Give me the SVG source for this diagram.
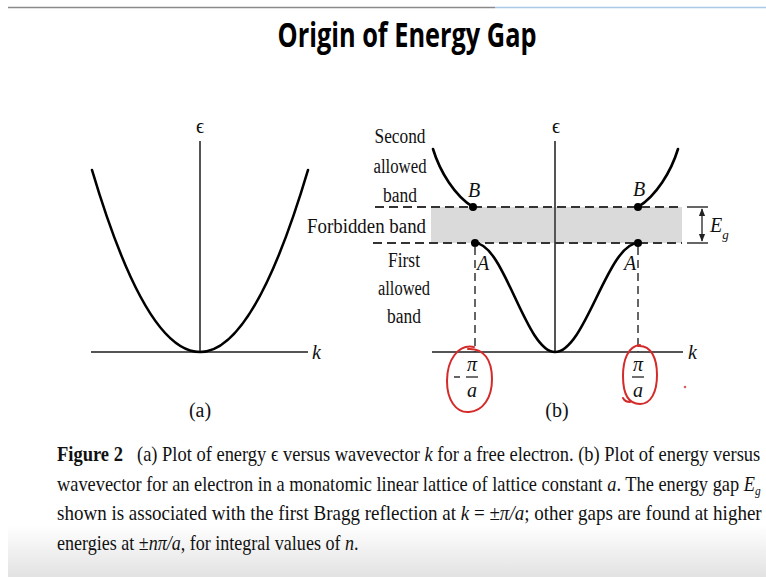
<svg xmlns="http://www.w3.org/2000/svg" width="766" height="577" viewBox="0 0 766 577">
<style>
.ax{stroke:#555;stroke-width:2;fill:none}
.cv{stroke:#000;stroke-width:2.6;fill:none;stroke-linecap:round}
.dash{stroke:#333;stroke-width:2;stroke-dasharray:9 5;fill:none}
.vdash{stroke:#333;stroke-width:1.5;stroke-dasharray:8 5;fill:none}
.lbl{font-family:"Liberation Serif","DejaVu Serif",serif;font-size:20px;fill:#111}
.it{font-style:italic}
.cap{font-family:"Liberation Serif","DejaVu Serif",serif;font-size:21px;fill:#111}
.red{stroke:#d42a2a;stroke-width:2;fill:none;stroke-linecap:round}
.dot{fill:#000}
</style>
<defs>
<linearGradient id="bg" x1="0" y1="0" x2="0" y2="1">
<stop offset="0" stop-color="#ffffff"/>
<stop offset="1" stop-color="#e2e2e2"/>
</linearGradient>
<marker id="ah" viewBox="0 0 10 10" refX="9" refY="5" markerWidth="6" markerHeight="6" orient="auto-start-reverse">
<path d="M0,1 L10,5 L0,9 z" fill="#222"/>
</marker>
</defs>
<rect x="0" y="0" width="766" height="577" fill="#fff"/>
<rect x="8" y="525" width="758" height="52" fill="url(#bg)"/>
<line x1="8" y1="7.5" x2="495" y2="7.5" stroke="#8a8a8a" stroke-width="1.5"/>
<line x1="495" y1="7.5" x2="766" y2="7.5" stroke="#a9c9e4" stroke-width="1.5"/>

<g id="title">
<text x="407" y="47" text-anchor="middle" font-family="'Open Sans','DejaVu Sans',sans-serif" font-weight="bold" font-size="34" textLength="259" lengthAdjust="spacingAndGlyphs" fill="#000">Origin of Energy Gap</text>
</g>

<g id="panel-a">
<line class="ax" x1="200" y1="141" x2="200" y2="352"/>
<line class="ax" x1="91" y1="352" x2="308" y2="352"/>
<path class="cv" d="M92,170 Q200,534 308,170"/>
<text class="lbl" x="200" y="133" text-anchor="middle" font-size="18">ϵ</text>
<text class="lbl it" x="312" y="359" font-size="20">k</text>
<text class="lbl" x="200" y="417" text-anchor="middle">(a)</text>
</g>

<g id="panel-b">
<rect x="431" y="207" width="251" height="36" fill="#dadada"/>
<line class="ax" x1="555" y1="141" x2="555" y2="352"/>
<line class="ax" x1="432" y1="352" x2="683" y2="352"/>
<text class="lbl" x="556" y="133" text-anchor="middle" font-size="18">ϵ</text>
<text class="lbl it" x="688" y="359" font-size="20">k</text>
<text class="lbl" x="557" y="417" text-anchor="middle">(b)</text>
</g>

<g id="connectors">
<line class="dash" x1="375" y1="207" x2="682" y2="207"/>
<line class="dash" x1="373" y1="243" x2="682" y2="243"/>
<line class="vdash" x1="475" y1="247" x2="475" y2="352"/>
<line class="vdash" x1="638" y1="247" x2="638" y2="352"/>
<line x1="687" y1="207" x2="708" y2="207" stroke="#333" stroke-width="1.5"/>
<line x1="687" y1="243" x2="708" y2="243" stroke="#333" stroke-width="1.5"/>
<line x1="702" y1="209" x2="702" y2="241" stroke="#222" stroke-width="1.3" marker-start="url(#ah)" marker-end="url(#ah)"/>
</g>

<g id="band-upper">
<path class="cv" d="M433,149 C440,172 455,196 473,207"/>
<path class="cv" d="M638,207 C656,196 671,172 678,149"/>
<circle class="dot" cx="473" cy="207" r="4"/>
<circle class="dot" cx="638" cy="207" r="4"/>
<text class="lbl it" x="474" y="197" text-anchor="middle" font-size="19">B</text>
<text class="lbl it" x="639" y="196" text-anchor="middle" font-size="19">B</text>
</g>

<g id="band-lower">
<path class="cv" d="M475,243 C504.1,243 525.9,352 555,352 C585.2,352 607.8,243 638,243"/>
<circle class="dot" cx="475" cy="243" r="4"/>
<circle class="dot" cx="638" cy="243" r="4"/>
<text class="lbl it" x="477" y="270" font-size="19">A</text>
<text class="lbl it" x="624" y="270" font-size="19">A</text>
</g>

<g id="labels-left">
<text class="lbl" x="400" y="143" text-anchor="middle" textLength="51" lengthAdjust="spacingAndGlyphs">Second</text>
<text class="lbl" x="400" y="173" text-anchor="middle" textLength="53" lengthAdjust="spacingAndGlyphs">allowed</text>
<text class="lbl" x="400" y="202" text-anchor="middle" textLength="34" lengthAdjust="spacingAndGlyphs">band</text>
<text class="lbl" x="307" y="233" textLength="119" lengthAdjust="spacingAndGlyphs">Forbidden band</text>
<text class="lbl" x="404" y="267" text-anchor="middle" textLength="32" lengthAdjust="spacingAndGlyphs">First</text>
<text class="lbl" x="404" y="295" text-anchor="middle" textLength="52" lengthAdjust="spacingAndGlyphs">allowed</text>
<text class="lbl" x="404" y="323" text-anchor="middle" textLength="34" lengthAdjust="spacingAndGlyphs">band</text>
</g>

<g id="eg-label">
<text class="lbl it" x="710" y="232" font-size="19">E<tspan dy="7" font-size="13">g</tspan></text>
</g>

<g id="k-left">
<line x1="454" y1="377" x2="460" y2="377" stroke="#111" stroke-width="1.3"/>
<text class="lbl it" x="472" y="371" text-anchor="middle" font-size="17">π</text>
<line x1="466" y1="377" x2="478" y2="377" stroke="#111" stroke-width="1.2"/>
<text class="lbl it" x="472" y="397" text-anchor="middle" font-size="18">a</text>
<path class="red" d="M474,347 C458,344 447,360 447,381 C447,400 456,413 469,412 C483,411 492,398 492,379 C492,360 484,348 468,349"/>
</g>

<g id="k-right">
<text class="lbl it" x="638" y="371" text-anchor="middle" font-size="17">π</text>
<line x1="632" y1="377" x2="644" y2="377" stroke="#111" stroke-width="1.2"/>
<text class="lbl it" x="638" y="397" text-anchor="middle" font-size="18">a</text>
<path class="red" d="M640,345 C628,346 623,360 623,376 C623,393 628,404 640,404 C651,404 657,392 657,375 C657,358 651,345 638,346 M630,402 C627,402 624,400 623,398"/>
<circle cx="685" cy="387" r="1.3" fill="#d46060"/>
</g>

<g id="caption">
<text class="cap" transform="translate(57,461) scale(0.882,1)" x="0" y="0" font-weight="bold">Figure 2</text>
<text class="cap" transform="translate(137,461) scale(0.879,1)" x="0" y="0">(a) Plot of energy ϵ versus wavevector <tspan class="it">k</tspan> for a free electron. (b) Plot of energy versus</text>
<text class="cap" transform="translate(57,490.5) scale(0.874,1)" x="0" y="0">wavevector for an electron in a monatomic linear lattice of lattice constant <tspan class="it">a</tspan>. The energy gap <tspan class="it">E</tspan><tspan class="it" font-size="13" dy="4">g</tspan></text>
<text class="cap" transform="translate(57,520) scale(0.906,1)" x="0" y="0">shown is associated with the first Bragg reflection at <tspan class="it">k</tspan> = ±<tspan class="it">π/a</tspan>; other gaps are found at higher</text>
<text class="cap" transform="translate(57,549.5) scale(0.859,1)" x="0" y="0">energies at ±<tspan class="it">nπ/a</tspan>, for integral values of <tspan class="it">n</tspan>.</text>
</g>
</svg>
